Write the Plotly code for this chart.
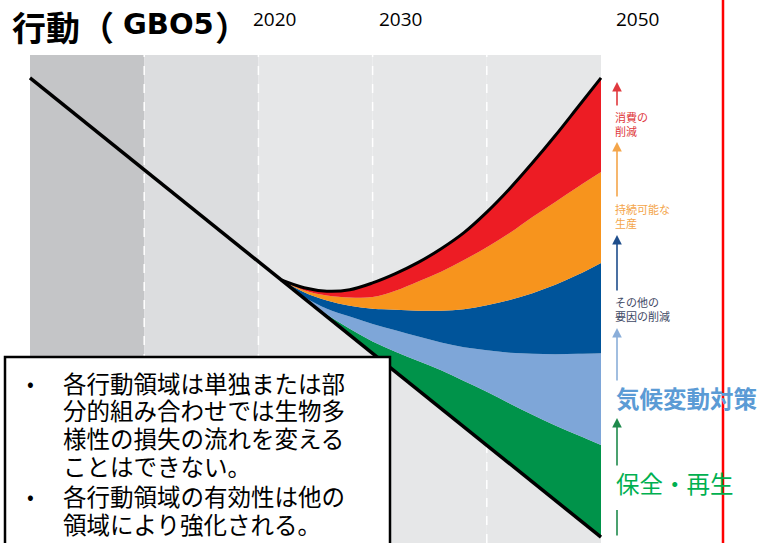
import plotly.graph_objects as go

# ---------------- data ----------------
# time axis (years) and biodiversity-index style values (0-100 scale)
column_edges = [2000, 2010, 2020, 2030, 2040, 2050]
column_colors = ["#c4c5c7", "#dcdddf", "#e6e7e8", "#e6e7e8", "#e6e7e8"]

baseline_years = [2000, 2022, 2050]
baseline_vals = [95.3, 53.9, 1.2]

band_years = [2022, 2024, 2026, 2028, 2030, 2032, 2034, 2036, 2038, 2040, 2042, 2044, 2046, 2048, 2050]
lower_vals = [53.9, 50.1, 46.4, 42.6, 38.8, 35.1, 31.3, 27.5, 23.8, 20.0, 16.3, 12.5, 8.7, 5.0, 1.2]
conserve_top = [53.9, 50.3, 46.8, 43.9, 41.3, 39.2, 37.3, 35.4, 33.2, 31.0, 28.6, 26.3, 24.1, 22.1, 20.1]
climate_top = [53.9, 50.4, 48.0, 46.4, 44.9, 43.6, 42.3, 41.1, 40.1, 39.5, 39.0, 38.8, 38.7, 38.8, 38.9]
other_top = [53.9, 51.4, 49.7, 48.6, 48.0, 47.8, 47.6, 47.6, 47.9, 48.7, 49.8, 51.2, 52.9, 55.0, 57.4]
production_top = [53.9, 51.8, 50.7, 50.3, 50.4, 51.7, 53.6, 55.6, 58.0, 60.6, 63.5, 66.8, 69.9, 73.0, 76.0]
consumption_top = [53.9, 52.3, 51.6, 51.9, 53.3, 55.2, 57.5, 60.3, 63.6, 67.8, 72.6, 77.9, 83.5, 89.4, 95.3]

band_tops = [conserve_top, climate_top, other_top, production_top, consumption_top]
band_colors = ["#00934a", "#7ea6d8", "#00549a", "#f7941d", "#ed1c24"]

year_labels = ["2020", "2030", "2050"]
title_parts = ["行動（", "GBO5", "）"]
box_lines = [
    "各行動領域は単独または部",
    "分的組み合わせでは生物多",
    "様性の損失の流れを変える",
    "ことはできない。",
    "各行動領域の有効性は他の",
    "領域により強化される。",
]

# ---------------- figure ----------------
W, H = 760, 543


def pxx(x):
    return x / W


def pxy(y):
    return 1 - y / H


fig = go.Figure()

# stacked bands
fig.add_trace(go.Scatter(x=band_years, y=lower_vals, mode="lines",
                         line=dict(width=0, shape="spline"), hoverinfo="skip"))
for vals, col in zip(band_tops, band_colors):
    fig.add_trace(go.Scatter(x=band_years, y=vals, mode="lines", fill="tonexty",
                             fillcolor=col, line=dict(width=0, shape="spline", color=col),
                             hoverinfo="skip"))

# black outlines
fig.add_trace(go.Scatter(x=baseline_years, y=baseline_vals, mode="lines",
                         line=dict(color="black", width=3.5), hoverinfo="skip"))
fig.add_trace(go.Scatter(x=band_years, y=consumption_top, mode="lines",
                         line=dict(color="black", width=3, shape="spline"), hoverinfo="skip"))

shapes = []
for i, col in enumerate(column_colors):
    shapes.append(dict(type="rect", xref="x", yref="y", x0=column_edges[i], x1=column_edges[i + 1],
                       y0=0, y1=100, fillcolor=col, line=dict(width=0), layer="below"))
for e in column_edges[1:-1]:
    shapes.append(dict(type="line", xref="x", yref="y", x0=e, x1=e, y0=0, y1=100,
                       line=dict(color="white", width=1.5, dash="dash"), layer="below"))

# red vertical line
shapes.append(dict(type="line", xref="paper", yref="paper", x0=pxx(723), x1=pxx(723),
                   y0=0, y1=1, line=dict(color="#ff0000", width=2.5)))
# text box
shapes.append(dict(type="rect", xref="paper", yref="paper", x0=pxx(5), x1=pxx(390),
                   y0=pxy(560), y1=pxy(357), fillcolor="white",
                   line=dict(color="black", width=2.5), layer="above"))

annotations = []
cjk = "Noto Sans CJK JP"
# title, in three parts so the latin part can use a wider font
for txt, lx, fam, sz, ys in [(title_parts[0], 10, cjk, 34, 0),
                             (title_parts[1], 121, "DejaVu Sans", 29, -5),
                             (title_parts[2], 213, cjk, 34, 0)]:
    annotations.append(dict(text="<b>" + txt + "</b>", x=pxx(lx), y=1, xref="paper", yref="paper",
                            xanchor="left", yanchor="top", yshift=ys, showarrow=False,
                            font=dict(family=fam, size=sz, color="black")))
for lab, cx in zip(year_labels, [274, 400, 637]):
    annotations.append(dict(text=lab, x=pxx(cx), y=pxy(19), xref="paper", yref="paper",
                            xanchor="center", yanchor="middle", showarrow=False,
                            font=dict(family="Open Sans", size=19, color="black")))

# side labels
side = [
    ("消費の<br>削減", 124, 11, "#e0393e", 613),
    ("持続可能な<br>生産", 216, 11, "#f4a54a", 613),
    ("その他の<br>要因の削減", 309, 11, "#3f4a66", 613),
    ("<b>気候変動対策</b>", 398, 23.5, "#5b9bd5", 614),
    ("保全・再生", 483, 23.5, "#00b050", 614),
]
for t, cy, sz, col, lx in side:
    annotations.append(dict(text=t, x=pxx(lx), y=pxy(cy), xref="paper", yref="paper",
                            xanchor="left", yanchor="middle", align="left", showarrow=False,
                            font=dict(family=cjk, size=sz, color=col)))

arrows = [
    (82, 107, "#e0393e", True),
    (142, 198, "#f4a54a", True),
    (235, 292, "#1f4e8c", True),
    (328, 382, "#8aaed9", True),
    (418, 467, "#1f8a4c", True),
    (510, 537, "#1f8a4c", False),
]
for y_head, y_tail, col, head in arrows:
    annotations.append(dict(text="", x=pxx(617), y=pxy(y_head), xref="paper", yref="paper",
                            ax=0, ay=y_tail - y_head, axref="pixel", ayref="pixel",
                            showarrow=True, arrowhead=2 if head else 0, arrowsize=1.2,
                            arrowwidth=1.6, arrowcolor=col))

# box text
for cy in [382, 495]:
    annotations.append(dict(text="•", x=pxx(30), y=pxy(cy), xref="paper", yref="paper",
                            xanchor="center", yanchor="middle", showarrow=False,
                            font=dict(family=cjk, size=20, color="black")))
for t, cy in zip(box_lines, [382, 409, 437, 465, 495, 523]):
    annotations.append(dict(text=t, x=pxx(61), y=pxy(cy), xref="paper", yref="paper",
                            xanchor="left", yanchor="middle", showarrow=False, height=27,
                            font=dict(family=cjk, size=23.5, color="black")))

x0_year = 2000 - 30 / 11.42
x1_year = 2050 + (W - 601) / 11.42
fig.update_layout(
    width=W, height=H, margin=dict(l=0, r=0, t=0, b=0),
    paper_bgcolor="white", plot_bgcolor="white", showlegend=False,
    xaxis=dict(range=[x0_year, x1_year], visible=False, fixedrange=True),
    yaxis=dict(range=[0, H / 4.88], visible=False, fixedrange=True),
    shapes=shapes, annotations=annotations,
)

fig.write_html("out.html")
